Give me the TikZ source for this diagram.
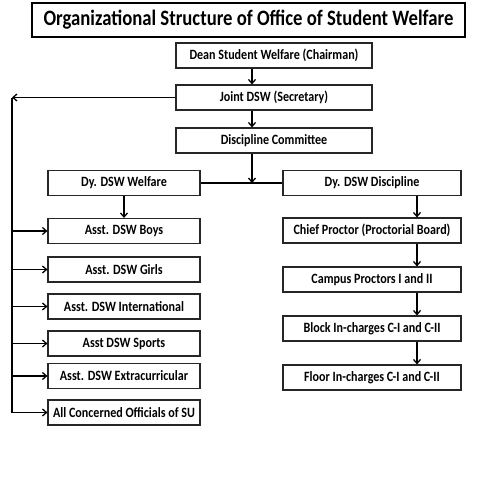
\documentclass[tikz,border=0pt]{standalone}
\usepackage{fontspec}
\setmainfont{Carlito}[FakeStretch=0.85]
\usetikzlibrary{positioning, arrows.meta}

\begin{document}
\begin{tikzpicture}[x=1pt, y=1pt, on grid,
    >={Straight Barb[length=4pt,width=7pt]},
    box/.style={draw=black!85, line width=1.1pt, minimum height=25pt, inner sep=0pt,
      font=\bfseries\fontsize{14.2}{16}\selectfont},
    lbox/.style={box, minimum width=152pt},
    rbox/.style={box, minimum width=178pt},
    link/.style={line width=1.3pt}]
		\useasboundingbox (0,0) rectangle (480,-480);
		\node[draw, line width=2.2pt, minimum width=433pt, minimum height=34pt, inner sep=0pt,
		  font=\bfseries\fontsize{22}{24}\selectfont] (title) at (248.5,-20)
		  {Organizational Structure of Office of Student Welfare};
		% top chain
		\node[box, minimum width=196pt] (dean) at (274,-55.5) {Dean Student Welfare (Chairman)};
		\node[box, minimum width=196pt] (joint) [below=42pt of dean] {Joint DSW (Secretary)};
		\node[box, minimum width=196pt] (disc) [below=43pt of joint] {Discipline Committee};
		% welfare side
		\node[lbox] (dyw) at (124,-183) {Dy. DSW Welfare};
		\node[lbox] (boys) [below=48pt of dyw] {Asst. DSW Boys};
		\node[lbox] (girls) [below=38.5pt of boys] {Asst. DSW Girls};
		\node[lbox] (intl) [below=37pt of girls] {Asst. DSW International};
		\node[lbox] (sports) [below=37pt of intl] {Asst DSW Sports};
		\node[lbox] (extra) [below=32.5pt of sports] {Asst. DSW Extracurricular};
		\node[lbox] (all) [below=36.5pt of extra] {All Concerned Officials of SU};
		% discipline side
		\node[rbox] (dyd) at (372,-183) {Dy. DSW Discipline};
		\node[rbox] (chief) [below=47.5pt of dyd] {Chief Proctor (Proctorial Board)};
		\node[rbox] (campus) [below=49pt of chief] {Campus Proctors I and II};
		\node[rbox] (block) [below=49pt of campus] {Block In-charges C-I and C-II};
		\node[rbox] (floor) [below=49pt of block] {Floor In-charges C-I and C-II};
		\coordinate (bus) at (12,-97.5);
		\draw[link, ->] ([xshift=-22pt]dean.south) -- ([xshift=-22pt]joint.north);
		\draw[link, ->] ([xshift=-22pt]joint.south) -- ([xshift=-22pt]disc.north);
		\draw[link, ->] ([xshift=-22pt]disc.south) -- ([xshift=-22pt]disc.south |- dyw.east);
		\draw[link] (dyw) -- (dyd);
		\draw[link, ->] (dyw) -- (boys);
		\draw[link, ->] ([xshift=45pt]dyd.south) -- ([xshift=45pt]chief.north);
		\draw[link, ->] ([xshift=45pt]chief.south) -- ([xshift=45pt]campus.north);
		\draw[link, ->] ([xshift=45pt]campus.south) -- ([xshift=45pt]block.north);
		\draw[link, ->] ([xshift=45pt]block.south) -- ([xshift=45pt]floor.north);
		\draw[link, ->] (joint.west) -- (bus |- joint.west);
		\draw[link] (bus |- joint.west) -- (bus |- all.west);
		\foreach \n in {boys, girls, intl, sports, extra, all}
			\draw[link, ->] (bus |- \n.west) -- (\n.west);
\end{tikzpicture}
\end{document}
